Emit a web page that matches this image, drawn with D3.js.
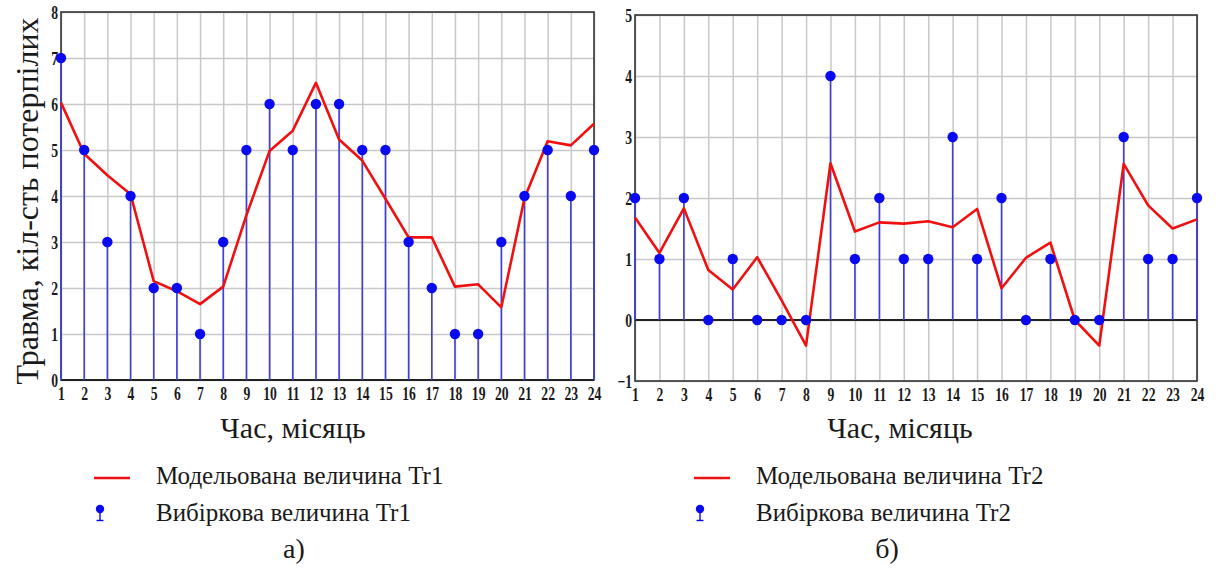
<!DOCTYPE html>
<html>
<head>
<meta charset="utf-8">
<script src="https://cdn.jsdelivr.net/npm/d3@7"></script>
<style>
  body { margin: 0; background: #fff; }
  svg { display: block; }
  text { font-family: "Liberation Serif", "DejaVu Serif", serif; fill: #1a1a1a; }
</style>
</head>
<body>
<svg id="chart" width="1216" height="572"></svg>
<script>
// months on the x axis
const months = [1, 2, 3, 4, 5, 6, 7, 8, 9, 10, 11, 12, 13, 14, 15, 16, 17, 18, 19, 20, 21, 22, 23, 24];

// panel a) Tr1
const tr1Sample = [7, 5, 3, 4, 2, 2, 1, 3, 5, 6, 5, 6, 6, 5, 5, 3, 2, 1, 1, 3, 4, 5, 4, 5];
const tr1Model = [6.03, 4.92, 4.45, 4.04, 2.15, 1.93, 1.65, 2.03, 3.58, 4.98, 5.42, 6.46, 5.23, 4.77, 3.94, 3.1, 3.1, 2.03, 2.08, 1.58, 3.95, 5.19, 5.1, 5.57];
const tr1Ticks = [0, 1, 2, 3, 4, 5, 6, 7, 8];

// panel б) Tr2
const tr2Sample = [2, 1, 2, 0, 1, 0, 0, 0, 4, 1, 2, 1, 1, 3, 1, 2, 0, 1, 0, 0, 3, 1, 1, 2];
const tr2Model = [1.68, 1.1, 1.83, 0.82, 0.5, 1.03, 0.32, -0.42, 2.57, 1.45, 1.6, 1.58, 1.62, 1.52, 1.82, 0.52, 1.02, 1.27, 0.0, -0.42, 2.56, 1.88, 1.5, 1.65];
const tr2Ticks = [-1, 0, 1, 2, 3, 4, 5];

const svg = d3.select('#chart');

const RED = '#f01010';
const BLUE = '#0a0af0';
const STEM = '#4040d8';
const GRID = '#c8c8c8';

function drawPanel(opts) {
  const x = d3.scaleLinear().domain([1, 24]).range(opts.xRange);
  const y = d3.scaleLinear().domain(d3.extent(opts.ticks)).range(opts.yRange);
  const [x0, x1] = opts.xRange;
  const [yb, yt] = opts.yRange;
  const g = svg.append('g');

  // vertical grid
  g.append('g')
    .attr('transform', 'translate(0,' + yb + ')')
    .call(d3.axisBottom(x).tickValues(months).tickSize(-(yb - yt)).tickFormat(''))
    .call(a => a.select('.domain').remove())
    .selectAll('line').attr('stroke', GRID).attr('stroke-width', 1.5);

  // horizontal grid
  g.append('g')
    .attr('transform', 'translate(' + x0 + ',0)')
    .call(d3.axisLeft(y).tickValues(opts.ticks).tickSize(-(x1 - x0)).tickFormat(''))
    .call(a => a.select('.domain').remove())
    .selectAll('line').attr('stroke', GRID).attr('stroke-width', 1.5);

  // frame
  g.append('rect')
    .attr('x', x0).attr('y', yt)
    .attr('width', x1 - x0).attr('height', yb - yt)
    .attr('fill', 'none').attr('stroke', '#333').attr('stroke-width', 1.6);

  // zero line
  g.append('line')
    .attr('x1', x0).attr('x2', x1)
    .attr('y1', y(0)).attr('y2', y(0))
    .attr('stroke', '#222').attr('stroke-width', 1.8);

  // x tick labels
  const xa = g.append('g')
    .attr('transform', 'translate(0,' + yb + ')')
    .call(d3.axisBottom(x).tickValues(months).tickSize(0).tickPadding(7));
  xa.select('.domain').remove();
  xa.selectAll('text')
    .attr('font-family', 'Liberation Serif').attr('font-weight', 'bold')
    .attr('font-size', 19).attr('fill', '#1a1a1a')
    .attr('transform', 'scale(0.72,1)');

  // y tick labels
  const ya = g.append('g')
    .attr('transform', 'translate(' + x0 + ',0)')
    .call(d3.axisLeft(y).tickValues(opts.ticks).tickSize(0).tickPadding(4)
      .tickFormat(d => d < 0 ? '\u2212' + Math.abs(d) : d));
  ya.select('.domain').remove();
  ya.selectAll('text')
    .attr('font-family', 'Liberation Serif').attr('font-weight', 'bold')
    .attr('font-size', 19).attr('fill', '#1a1a1a')
    .attr('transform', 'scale(0.72,1)');

  // stems
  g.append('g').selectAll('line')
    .data(opts.sample)
    .join('line')
    .attr('x1', (d, i) => x(months[i])).attr('x2', (d, i) => x(months[i]))
    .attr('y1', y(0)).attr('y2', d => y(d))
    .attr('stroke', STEM).attr('stroke-width', 1.6);

  // model line
  g.append('path')
    .datum(opts.model)
    .attr('fill', 'none').attr('stroke', RED).attr('stroke-width', 2.6)
    .attr('stroke-linejoin', 'round')
    .attr('d', d3.line().x((d, i) => x(months[i])).y(d => y(d)));

  // sample markers
  g.append('g').selectAll('circle')
    .data(opts.sample)
    .join('circle')
    .attr('cx', (d, i) => x(months[i])).attr('cy', d => y(d))
    .attr('r', 5.2).attr('fill', BLUE);

  // axis title
  g.append('text')
    .attr('x', opts.titleX).attr('y', 438)
    .attr('text-anchor', 'middle').attr('font-size', 30)
    .text('Час, місяць');

  // legend
  const lg = g.append('g');
  lg.append('line')
    .attr('x1', opts.legX).attr('x2', opts.legX + 36)
    .attr('y1', 478).attr('y2', 478)
    .attr('stroke', RED).attr('stroke-width', 2.6);
  lg.append('text')
    .attr('x', opts.legX + 62).attr('y', 484)
    .attr('font-size', 25)
    .text('Модельована величина ' + opts.name);
  const mx = opts.legX + 6;
  lg.append('circle').attr('cx', mx).attr('cy', 509).attr('r', 4.2).attr('fill', BLUE);
  lg.append('line').attr('x1', mx).attr('x2', mx).attr('y1', 511).attr('y2', 520)
    .attr('stroke', BLUE).attr('stroke-width', 1.4);
  lg.append('line').attr('x1', mx - 3.5).attr('x2', mx + 3.5).attr('y1', 520.5).attr('y2', 520.5)
    .attr('stroke', BLUE).attr('stroke-width', 1.4);
  lg.append('text')
    .attr('x', opts.legX + 62).attr('y', 521)
    .attr('font-size', 25)
    .text('Вибіркова величина ' + opts.name);

  g.append('text')
    .attr('x', opts.capX).attr('y', 558)
    .attr('text-anchor', 'middle').attr('font-size', 28)
    .text(opts.caption);
}

drawPanel({
  xRange: [61, 594], yRange: [380, 12], ticks: tr1Ticks,
  sample: tr1Sample, model: tr1Model, name: 'Tr1',
  titleX: 293, legX: 94, capX: 294, caption: 'а)'
});

drawPanel({
  xRange: [635, 1197], yRange: [381, 15], ticks: tr2Ticks,
  sample: tr2Sample, model: tr2Model, name: 'Tr2',
  titleX: 900, legX: 694, capX: 887, caption: 'б)'
});

// y axis title of panel a)
svg.append('text')
  .attr('transform', 'translate(38,201) rotate(-90)')
  .attr('text-anchor', 'middle').attr('font-size', 32)
  .text('Травма, кіл-сть потерпілих');
</script>
</body>
</html>
